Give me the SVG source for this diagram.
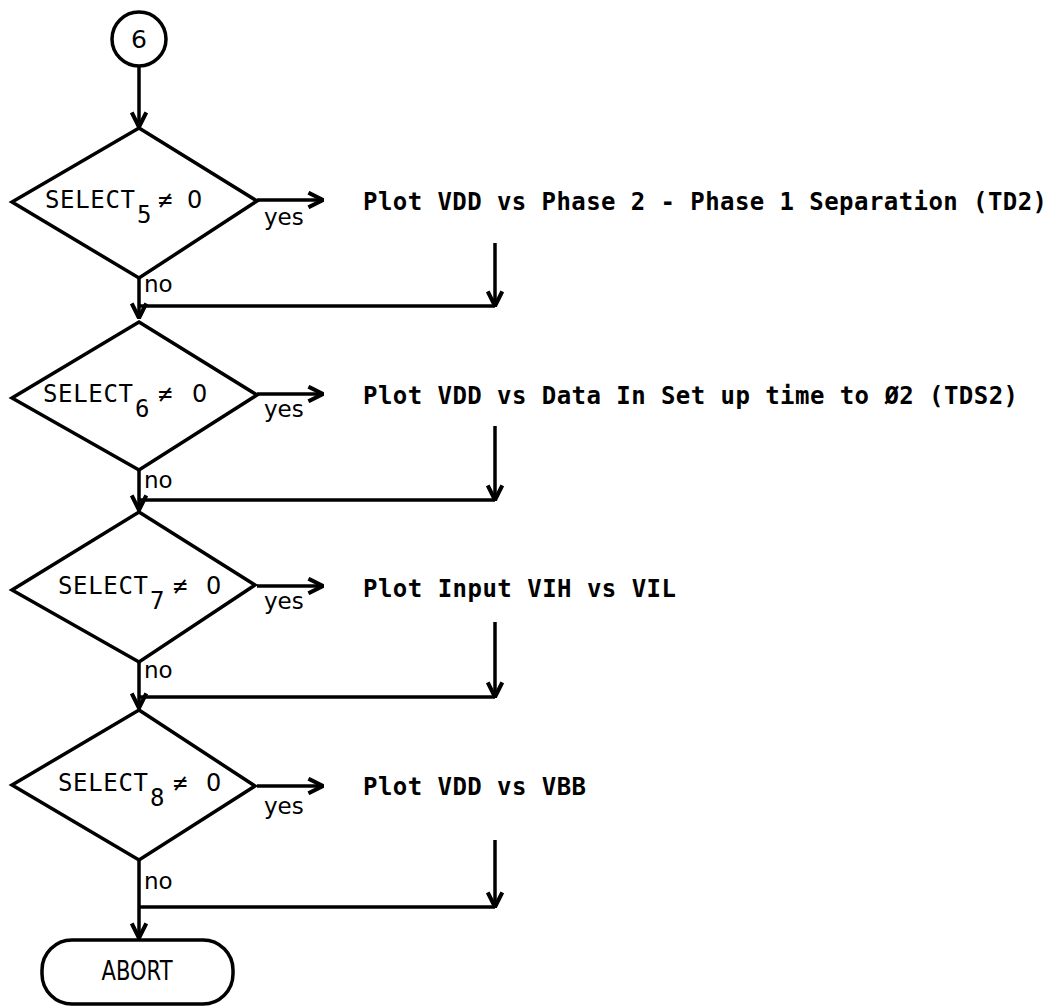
<svg xmlns="http://www.w3.org/2000/svg" width="1062" height="1008" viewBox="0 0 1062 1008">
<style>
.sh{fill:#fff;stroke:#000;stroke-width:3.5;stroke-linejoin:miter}
.ln{fill:none;stroke:#000;stroke-width:3.5}
.t{font-family:"DejaVu Sans Mono","Liberation Mono",monospace;font-size:24px;font-weight:bold;fill:#000}
.s{font-family:"DejaVu Sans Mono","Liberation Mono",monospace;font-size:24px;fill:#000}
.z{font-family:"DejaVu Sans","Liberation Sans",sans-serif}
.lb{font-family:"DejaVu Sans","Liberation Sans",sans-serif;font-size:23px;fill:#000}
</style>
<defs>
<marker id="ah" viewBox="0 0 12 12" refX="11" refY="6" markerWidth="5" markerHeight="5" orient="auto" markerUnits="strokeWidth">
<path d="M1,1 L11,6 L1,11" fill="none" stroke="#000" stroke-width="2.8"/>
</marker>
</defs>
<rect width="1062" height="1008" fill="#fff"/>

<g id="connectors">
<line class="ln" x1="139" y1="66" x2="139" y2="127" marker-end="url(#ah)"/>
<line class="ln" x1="257" y1="200" x2="323" y2="200" marker-end="url(#ah)"/>
<line class="ln" x1="139" y1="278" x2="139" y2="318" marker-end="url(#ah)"/>
<line class="ln" x1="495" y1="243" x2="495" y2="306" marker-end="url(#ah)"/>
<line class="ln" x1="495" y1="306" x2="139" y2="306"/>

<line class="ln" x1="257" y1="394" x2="323" y2="394" marker-end="url(#ah)"/>
<line class="ln" x1="139" y1="470" x2="139" y2="510" marker-end="url(#ah)"/>
<line class="ln" x1="495" y1="426" x2="495" y2="500" marker-end="url(#ah)"/>
<line class="ln" x1="495" y1="500" x2="139" y2="500"/>

<line class="ln" x1="257" y1="586" x2="323" y2="586" marker-end="url(#ah)"/>
<line class="ln" x1="139" y1="662" x2="139" y2="708" marker-end="url(#ah)"/>
<line class="ln" x1="495" y1="622" x2="495" y2="697" marker-end="url(#ah)"/>
<line class="ln" x1="495" y1="697" x2="139" y2="697"/>

<line class="ln" x1="257" y1="786" x2="323" y2="786" marker-end="url(#ah)"/>
<line class="ln" x1="139" y1="860" x2="139" y2="938" marker-end="url(#ah)"/>
<line class="ln" x1="495" y1="840" x2="495" y2="907" marker-end="url(#ah)"/>
<line class="ln" x1="495" y1="907" x2="139" y2="907"/>

<text class="lb" x="264" y="225">yes</text>
<text class="lb" x="144" y="292">no</text>
<text class="lb" x="264" y="417">yes</text>
<text class="lb" x="144" y="488">no</text>
<text class="lb" x="264" y="609">yes</text>
<text class="lb" x="144" y="678">no</text>
<text class="lb" x="264" y="814">yes</text>
<text class="lb" x="144" y="889">no</text>
</g>

<g id="start">
<circle class="sh" cx="139" cy="39" r="27"/>
<text class="s z" x="139" y="48" text-anchor="middle" style="font-size:25px">6</text>
</g>

<g id="d1">
<polygon class="sh" points="139,128 257,201 139,278 12,202"/>
<text class="s"><tspan x="45" y="208" textLength="90">SELECT</tspan><tspan x="137" y="223">5</tspan><tspan x="158" y="208">≠</tspan><tspan class="z" x="187" y="208">0</tspan></text>
</g>
<g id="p1">
<text class="t" x="363" y="210" textLength="684" lengthAdjust="spacing">Plot VDD vs Phase 2 - Phase 1 Separation (TD2)</text>
</g>

<g id="d2">
<polygon class="sh" points="139,322 257,395 139,470 12,398"/>
<text class="s"><tspan x="43" y="402" textLength="90">SELECT</tspan><tspan x="135" y="417">6</tspan><tspan x="158" y="402">≠</tspan><tspan class="z" x="192" y="402">0</tspan></text>
</g>
<g id="p2">
<text class="t" x="363" y="404" textLength="655" lengthAdjust="spacing">Plot VDD vs Data In Set up time to Ø2 (TDS2)</text>
</g>

<g id="d3">
<polygon class="sh" points="139,512 255,585 139,662 12,590"/>
<text class="s"><tspan x="58" y="594" textLength="90">SELECT</tspan><tspan x="150" y="609">7</tspan><tspan x="173" y="594">≠</tspan><tspan class="z" x="206" y="594">0</tspan></text>
</g>
<g id="p3">
<text class="t" x="363" y="597" textLength="313" lengthAdjust="spacing">Plot Input VIH vs VIL</text>
</g>

<g id="d4">
<polygon class="sh" points="139,710 255,786 139,860 12,785"/>
<text class="s"><tspan x="58" y="791" textLength="90">SELECT</tspan><tspan x="150" y="806">8</tspan><tspan x="173" y="791">≠</tspan><tspan class="z" x="206" y="791">0</tspan></text>
</g>
<g id="p4">
<text class="t" x="363" y="795" textLength="223" lengthAdjust="spacing">Plot VDD vs VBB</text>
</g>

<g id="abort">
<rect class="sh" x="42" y="940" width="191" height="64" rx="30" ry="30"/>
<text class="s z" x="137" y="980" text-anchor="middle" style="font-size:26px" textLength="71" lengthAdjust="spacingAndGlyphs">ABORT</text>
</g>
</svg>
